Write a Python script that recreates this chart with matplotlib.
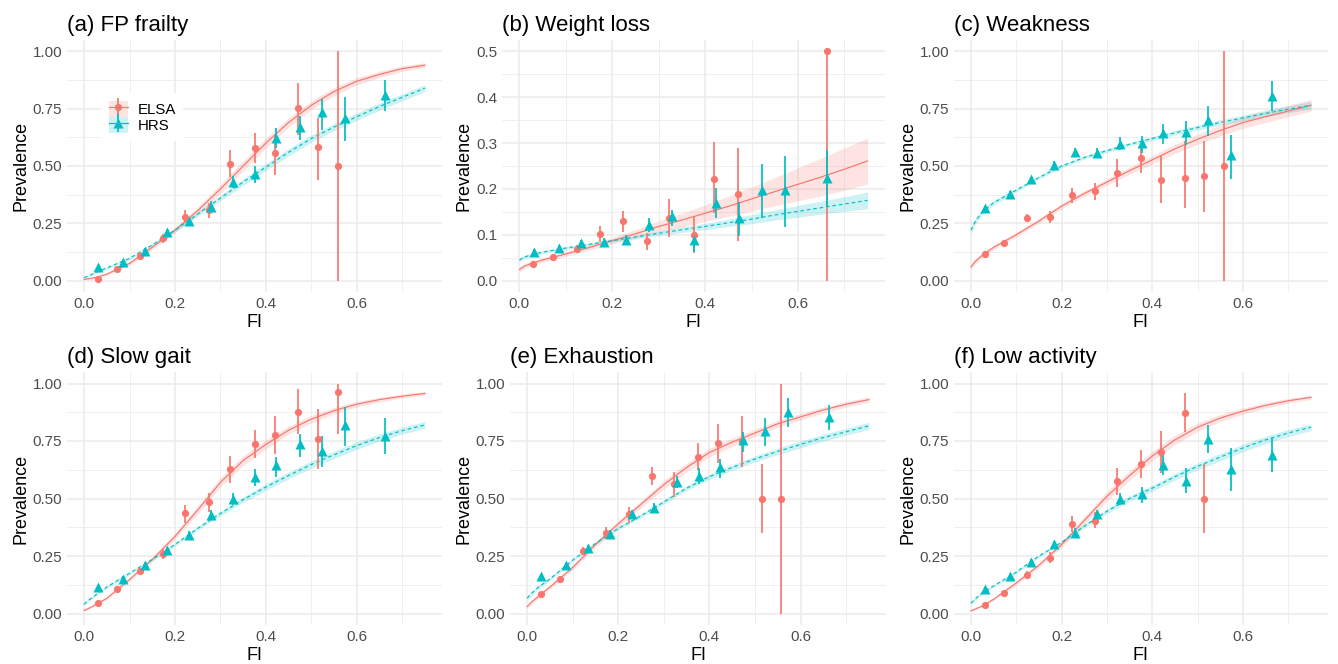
import numpy as np
import matplotlib
matplotlib.use("Agg")
import matplotlib.pyplot as plt
from matplotlib.ticker import MultipleLocator, FormatStrFormatter
from matplotlib.patches import Patch
from matplotlib.lines import Line2D

plt.rcParams['font.family'] = ['Liberation Sans', 'DejaVu Sans']

nan = np.nan
ELSA_COL = '#F8766D'
HRS_COL = '#00BFC4'

# binned FI means (x positions of the points)
ELSA_X = [0.030, 0.073, 0.123, 0.174, 0.223, 0.274, 0.322, 0.376, 0.419, 0.471, 0.515, 0.558, 0.662]
HRS_X = [0.031, 0.086, 0.133, 0.182, 0.230, 0.279, 0.328, 0.377, 0.423, 0.474, 0.523, 0.573, 0.663]

# x grid where the fitted curves were read
FIT_X = [0, 0.01, 0.025, 0.05, 0.1, 0.15, 0.2, 0.25, 0.3, 0.35, 0.4, 0.45, 0.5, 0.55, 0.6, 0.65, 0.7, 0.75]

# (a) FP frailty
a_elsa_y = [0.007, 0.05, 0.109, 0.185, 0.279, 0.309, 0.508, 0.579, 0.556, 0.751, 0.584, 0.501, nan]
a_elsa_lo = [0.003, 0.04, 0.095, 0.165, 0.253, 0.272, 0.451, 0.512, 0.459, 0.636, 0.437, 0.0, nan]
a_elsa_hi = [0.012, 0.06, 0.124, 0.205, 0.308, 0.34, 0.568, 0.643, 0.636, 0.863, 0.709, 1.0, nan]
a_hrs_y = [0.057, 0.082, 0.13, 0.213, 0.258, 0.323, 0.429, 0.466, 0.624, 0.67, 0.734, 0.709, 0.811]
a_hrs_lo = [0.05, 0.073, 0.12, 0.2, 0.24, 0.3, 0.405, 0.425, 0.578, 0.614, 0.658, 0.611, 0.741]
a_hrs_hi = [0.064, 0.091, 0.14, 0.226, 0.276, 0.346, 0.455, 0.498, 0.665, 0.719, 0.793, 0.80, 0.876]
a_elsa_fit = [0.005, 0.008, 0.013, 0.028, 0.075, 0.145, 0.22, 0.305, 0.40, 0.50, 0.60, 0.69, 0.765, 0.825, 0.87, 0.90, 0.925, 0.94]
a_elsa_se = [0.002, 0.003, 0.004, 0.005, 0.008, 0.01, 0.012, 0.016, 0.02, 0.022, 0.022, 0.02, 0.019, 0.018, 0.016, 0.014, 0.012, 0.011]
a_hrs_fit = [0.013, 0.02, 0.035, 0.055, 0.097, 0.155, 0.22, 0.29, 0.36, 0.43, 0.495, 0.56, 0.62, 0.67, 0.715, 0.76, 0.80, 0.84]
a_hrs_se = [0.004, 0.004, 0.004, 0.005, 0.006, 0.007, 0.008, 0.01, 0.012, 0.014, 0.015, 0.016, 0.016, 0.016, 0.016, 0.016, 0.015, 0.015]

# (b) Weight loss
b_elsa_y = [0.036, 0.051, 0.068, 0.101, 0.129, 0.087, 0.137, 0.100, 0.222, 0.188, nan, nan, 0.5]
b_elsa_lo = [0.03, 0.044, 0.06, 0.085, 0.106, 0.066, 0.096, 0.061, 0.147, 0.087, nan, nan, 0.0]
b_elsa_hi = [0.042, 0.058, 0.077, 0.118, 0.151, 0.103, 0.178, 0.140, 0.303, 0.289, nan, nan, 0.5]
b_hrs_y = [0.063, 0.072, 0.081, 0.084, 0.089, 0.121, 0.140, 0.089, 0.170, 0.136, 0.197, 0.197, 0.223]
b_hrs_lo = [0.058, 0.066, 0.074, 0.076, 0.079, 0.106, 0.118, 0.063, 0.136, 0.098, 0.136, 0.116, 0.16]
b_hrs_hi = [0.068, 0.078, 0.088, 0.093, 0.099, 0.136, 0.154, 0.103, 0.202, 0.172, 0.255, 0.272, 0.285]
b_elsa_fit = [0.024, 0.031, 0.037, 0.045, 0.058, 0.072, 0.087, 0.102, 0.118, 0.132, 0.147, 0.162, 0.178, 0.194, 0.21, 0.226, 0.243, 0.261]
b_elsa_se = [0.006, 0.005, 0.005, 0.005, 0.005, 0.006, 0.007, 0.009, 0.012, 0.015, 0.018, 0.022, 0.026, 0.031, 0.036, 0.041, 0.046, 0.05]
b_hrs_fit = [0.045, 0.051, 0.056, 0.062, 0.071, 0.079, 0.087, 0.095, 0.103, 0.111, 0.118, 0.126, 0.134, 0.143, 0.151, 0.159, 0.167, 0.175]
b_hrs_se = [0.004, 0.004, 0.003, 0.003, 0.003, 0.003, 0.003, 0.004, 0.005, 0.006, 0.007, 0.008, 0.01, 0.011, 0.013, 0.014, 0.016, 0.018]

# (c) Weakness
c_elsa_y = [0.115, 0.164, 0.275, 0.277, 0.373, 0.39, 0.469, 0.534, 0.44, 0.447, 0.456, 0.50, nan]
c_elsa_lo = [0.105, 0.15, 0.258, 0.25, 0.34, 0.35, 0.408, 0.469, 0.338, 0.316, 0.300, 0.0, nan]
c_elsa_hi = [0.125, 0.178, 0.292, 0.303, 0.405, 0.425, 0.53, 0.585, 0.544, 0.607, 0.611, 1.0, nan]
c_hrs_y = [0.316, 0.378, 0.442, 0.505, 0.563, 0.556, 0.597, 0.60, 0.643, 0.648, 0.699, 0.546, 0.806]
c_hrs_lo = [0.305, 0.366, 0.43, 0.49, 0.545, 0.535, 0.57, 0.556, 0.597, 0.592, 0.629, 0.444, 0.738]
c_hrs_hi = [0.327, 0.39, 0.454, 0.52, 0.58, 0.577, 0.625, 0.63, 0.684, 0.697, 0.763, 0.636, 0.869]
c_elsa_fit = [0.06, 0.085, 0.11, 0.145, 0.20, 0.26, 0.325, 0.38, 0.43, 0.48, 0.527, 0.575, 0.617, 0.655, 0.69, 0.715, 0.74, 0.765]
c_elsa_se = [0.012, 0.012, 0.011, 0.01, 0.01, 0.01, 0.011, 0.012, 0.014, 0.016, 0.018, 0.02, 0.022, 0.024, 0.025, 0.025, 0.025, 0.025]
c_hrs_fit = [0.22, 0.26, 0.30, 0.34, 0.395, 0.45, 0.50, 0.537, 0.567, 0.595, 0.62, 0.645, 0.668, 0.69, 0.71, 0.73, 0.748, 0.765]
c_hrs_se = [0.015, 0.013, 0.011, 0.01, 0.008, 0.007, 0.007, 0.007, 0.008, 0.008, 0.009, 0.01, 0.011, 0.012, 0.013, 0.014, 0.015, 0.016]

# (d) Slow gait
d_elsa_y = [0.045, 0.106, 0.185, 0.258, 0.436, 0.485, 0.627, 0.737, 0.776, 0.877, 0.76, 0.964, nan]
d_elsa_lo = [0.038, 0.095, 0.17, 0.235, 0.395, 0.443, 0.566, 0.678, 0.693, 0.78, 0.627, 0.78, nan]
d_elsa_hi = [0.052, 0.117, 0.2, 0.28, 0.472, 0.522, 0.685, 0.797, 0.858, 0.974, 0.891, 1.0, nan]
d_hrs_y = [0.117, 0.152, 0.211, 0.274, 0.340, 0.427, 0.498, 0.595, 0.644, 0.737, 0.708, 0.819, 0.771]
d_hrs_lo = [0.108, 0.142, 0.2, 0.26, 0.322, 0.405, 0.472, 0.554, 0.595, 0.682, 0.638, 0.728, 0.693]
d_hrs_hi = [0.126, 0.162, 0.222, 0.288, 0.358, 0.45, 0.525, 0.627, 0.682, 0.78, 0.771, 0.899, 0.848]
d_elsa_fit = [0.013, 0.022, 0.038, 0.066, 0.148, 0.235, 0.335, 0.45, 0.57, 0.665, 0.735, 0.797, 0.845, 0.882, 0.91, 0.93, 0.945, 0.957]
d_elsa_se = [0.003, 0.003, 0.004, 0.005, 0.008, 0.01, 0.013, 0.017, 0.02, 0.021, 0.02, 0.018, 0.016, 0.014, 0.012, 0.01, 0.009, 0.008]
d_hrs_fit = [0.04, 0.058, 0.08, 0.115, 0.175, 0.235, 0.30, 0.37, 0.435, 0.495, 0.55, 0.60, 0.648, 0.69, 0.73, 0.765, 0.795, 0.82]
d_hrs_se = [0.006, 0.006, 0.005, 0.005, 0.006, 0.006, 0.007, 0.008, 0.01, 0.012, 0.014, 0.015, 0.016, 0.016, 0.016, 0.016, 0.015, 0.015]

# (e) Exhaustion
e_elsa_y = [0.084, 0.150, 0.271, 0.350, 0.431, 0.598, 0.563, 0.682, 0.74, 0.751, 0.50, 0.50, nan]
e_elsa_lo = [0.076, 0.138, 0.255, 0.325, 0.395, 0.559, 0.505, 0.624, 0.656, 0.638, 0.352, 0.0, nan]
e_elsa_hi = [0.092, 0.162, 0.287, 0.376, 0.462, 0.635, 0.617, 0.742, 0.823, 0.858, 0.65, 1.0, nan]
e_hrs_y = [0.161, 0.21, 0.285, 0.346, 0.431, 0.46, 0.573, 0.60, 0.635, 0.754, 0.795, 0.877, 0.855]
e_hrs_lo = [0.152, 0.2, 0.272, 0.33, 0.412, 0.438, 0.545, 0.563, 0.588, 0.703, 0.728, 0.809, 0.797]
e_hrs_hi = [0.17, 0.22, 0.298, 0.362, 0.45, 0.482, 0.60, 0.631, 0.67, 0.79, 0.849, 0.935, 0.906]
e_elsa_fit = [0.03, 0.05, 0.075, 0.115, 0.20, 0.30, 0.39, 0.475, 0.56, 0.635, 0.70, 0.745, 0.785, 0.825, 0.855, 0.885, 0.91, 0.93]
e_elsa_se = [0.008, 0.008, 0.008, 0.008, 0.01, 0.012, 0.013, 0.015, 0.018, 0.019, 0.019, 0.018, 0.017, 0.015, 0.014, 0.013, 0.012, 0.011]
e_hrs_fit = [0.067, 0.088, 0.115, 0.15, 0.232, 0.305, 0.37, 0.425, 0.485, 0.545, 0.595, 0.635, 0.672, 0.705, 0.735, 0.765, 0.79, 0.816]
e_hrs_se = [0.01, 0.009, 0.008, 0.007, 0.006, 0.006, 0.007, 0.008, 0.009, 0.01, 0.011, 0.012, 0.013, 0.014, 0.015, 0.015, 0.015, 0.015]

# (f) Low activity
f_elsa_y = [0.036, 0.090, 0.169, 0.243, 0.391, 0.404, 0.575, 0.648, 0.703, 0.873, 0.50, nan, nan]
f_elsa_lo = [0.03, 0.08, 0.155, 0.218, 0.356, 0.37, 0.515, 0.588, 0.612, 0.79, 0.352, nan, nan]
f_elsa_hi = [0.042, 0.1, 0.183, 0.268, 0.424, 0.44, 0.634, 0.711, 0.793, 0.957, 0.65, nan, nan]
f_hrs_y = [0.106, 0.161, 0.226, 0.302, 0.352, 0.431, 0.496, 0.518, 0.645, 0.577, 0.758, 0.628, 0.689]
f_hrs_lo = [0.098, 0.15, 0.213, 0.287, 0.335, 0.41, 0.47, 0.479, 0.602, 0.522, 0.696, 0.534, 0.616]
f_hrs_hi = [0.114, 0.172, 0.239, 0.317, 0.37, 0.452, 0.522, 0.551, 0.689, 0.631, 0.819, 0.718, 0.761]
f_elsa_fit = [0.012, 0.02, 0.033, 0.062, 0.133, 0.21, 0.30, 0.405, 0.51, 0.60, 0.685, 0.755, 0.81, 0.85, 0.88, 0.905, 0.925, 0.94]
f_elsa_se = [0.003, 0.003, 0.004, 0.005, 0.008, 0.01, 0.013, 0.017, 0.02, 0.021, 0.021, 0.02, 0.018, 0.016, 0.014, 0.012, 0.01, 0.009]
f_hrs_fit = [0.045, 0.065, 0.09, 0.12, 0.18, 0.25, 0.31, 0.38, 0.445, 0.50, 0.545, 0.595, 0.64, 0.68, 0.72, 0.755, 0.785, 0.81]
f_hrs_se = [0.006, 0.006, 0.005, 0.005, 0.006, 0.006, 0.007, 0.008, 0.01, 0.012, 0.013, 0.014, 0.015, 0.016, 0.016, 0.016, 0.015, 0.015]

TITLES = ['(a) FP frailty', '(b) Weight loss', '(c) Weakness',
          '(d) Slow gait', '(e) Exhaustion', '(f) Low activity']

panels = [
    (a_elsa_y, a_elsa_lo, a_elsa_hi, a_hrs_y, a_hrs_lo, a_hrs_hi, a_elsa_fit, a_elsa_se, a_hrs_fit, a_hrs_se),
    (b_elsa_y, b_elsa_lo, b_elsa_hi, b_hrs_y, b_hrs_lo, b_hrs_hi, b_elsa_fit, b_elsa_se, b_hrs_fit, b_hrs_se),
    (c_elsa_y, c_elsa_lo, c_elsa_hi, c_hrs_y, c_hrs_lo, c_hrs_hi, c_elsa_fit, c_elsa_se, c_hrs_fit, c_hrs_se),
    (d_elsa_y, d_elsa_lo, d_elsa_hi, d_hrs_y, d_hrs_lo, d_hrs_hi, d_elsa_fit, d_elsa_se, d_hrs_fit, d_hrs_se),
    (e_elsa_y, e_elsa_lo, e_elsa_hi, e_hrs_y, e_hrs_lo, e_hrs_hi, e_elsa_fit, e_elsa_se, e_hrs_fit, e_hrs_se),
    (f_elsa_y, f_elsa_lo, f_elsa_hi, f_hrs_y, f_hrs_lo, f_hrs_hi, f_elsa_fit, f_elsa_se, f_hrs_fit, f_hrs_se),
]

W, H = 1338, 664
fig = plt.figure(figsize=(W / 100, H / 100), dpi=100)

# panel boxes in pixels: left, right, top, bottom
boxes = [(67, 442, 40, 292), (502, 885, 40, 292), (954, 1328, 40, 292),
         (67, 442, 372, 625), (510, 886, 372, 625), (954, 1328, 372, 625)]

grid_col = '#EBEBEB'
fx = np.array(FIT_X)
DASH = (0, (3, 2.5))
MS_O, MS_T = 5.2, 6.8

for i, (box, title, p) in enumerate(zip(boxes, TITLES, panels)):
    l, r, t, b = box
    ax = fig.add_axes([l / W, 1 - b / H, (r - l) / W, (b - t) / H])
    ey, elo, ehi, hy, hlo, hhi, efit, ese, hfit, hse = [np.array(v, dtype=float) for v in p]

    for fit, se, col, ls in [(efit, ese, ELSA_COL, '-'), (hfit, hse, HRS_COL, DASH)]:
        ax.fill_between(fx, fit - se, fit + se, color=col, alpha=0.2, lw=0, zorder=1)
        ax.plot(fx, fit, color=col, lw=0.85, ls=ls, zorder=2)

    for xs, ys, lo, hi, col, mk, ms in [(ELSA_X, ey, elo, ehi, ELSA_COL, 'o', MS_O),
                                        (HRS_X, hy, hlo, hhi, HRS_COL, '^', MS_T)]:
        ax.vlines(xs, lo, hi, color=col, lw=1.25, zorder=3)
        ax.plot(xs, ys, ls='none', marker=mk, ms=ms, color=col, mec='none', zorder=4)

    ymax = 0.5 if i == 1 else 1.0
    ax.set_xlim(-0.0375, 0.7875)
    ax.set_ylim(-0.05 * ymax, 1.05 * ymax)
    ax.xaxis.set_major_locator(MultipleLocator(0.2))
    ax.xaxis.set_minor_locator(MultipleLocator(0.1))
    ax.xaxis.set_major_formatter(FormatStrFormatter('%.1f'))
    if i == 1:
        ax.yaxis.set_major_locator(MultipleLocator(0.1))
        ax.yaxis.set_minor_locator(MultipleLocator(0.05))
        ax.yaxis.set_major_formatter(FormatStrFormatter('%.1f'))
    else:
        ax.yaxis.set_major_locator(MultipleLocator(0.25))
        ax.yaxis.set_minor_locator(MultipleLocator(0.125))
        ax.yaxis.set_major_formatter(FormatStrFormatter('%.2f'))

    ax.grid(which='major', color=grid_col, lw=1.1)
    ax.grid(which='minor', color=grid_col, lw=0.55)
    ax.set_axisbelow(True)
    for s in ax.spines.values():
        s.set_visible(False)
    ax.tick_params(which='both', length=0, labelsize=11, labelcolor='#4D4D4D', pad=3.5)
    ax.set_xlabel('FI', fontsize=13, labelpad=2.5)
    ax.set_ylabel('Prevalence', fontsize=13, labelpad=2.5)
    ax.set_title(title, loc='left', fontsize=16, pad=6.5)

    if i == 0:
        handles = [
            (Patch(facecolor=ELSA_COL, alpha=0.2, edgecolor='none'),
             Line2D([], [], color=ELSA_COL, lw=0.85),
             Line2D([], [], ls='none', marker='|', ms=13.5, mew=1.25, color=ELSA_COL),
             Line2D([], [], ls='none', marker='o', ms=MS_O, color=ELSA_COL, mec='none')),
            (Patch(facecolor=HRS_COL, alpha=0.2, edgecolor='none'),
             Line2D([], [], color=HRS_COL, lw=0.85),
             Line2D([], [], ls='none', marker='|', ms=13.5, mew=1.25, color=HRS_COL),
             Line2D([], [], ls='none', marker='^', ms=MS_T, color=HRS_COL, mec='none')),
        ]
        leg = ax.legend(handles, ['ELSA', 'HRS'], loc='upper left',
                        bbox_to_anchor=(101 / W, 1 - 93 / H), bbox_transform=fig.transFigure,
                        frameon=True, fancybox=False, edgecolor='none', facecolor='white',
                        framealpha=1, fontsize=10.8, handlelength=1.27, handleheight=1.3,
                        labelspacing=0.0, handletextpad=0.67, borderpad=0.5, borderaxespad=0)

fig.savefig('out.png', dpi=100)
